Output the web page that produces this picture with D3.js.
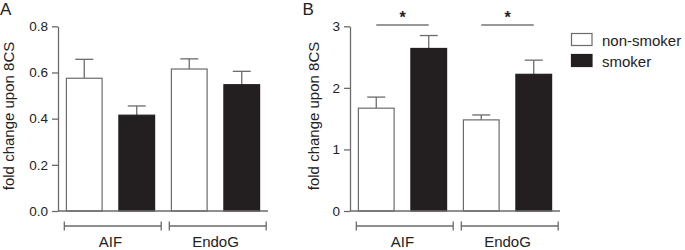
<!DOCTYPE html>
<html><head><meta charset="utf-8">
<script src="https://cdn.jsdelivr.net/npm/d3@7"></script>
<style>body{margin:0;background:#fff}svg{display:block;font-family:"Liberation Sans",Arial,sans-serif}</style>
</head><body><svg id="c" width="685" height="250"></svg>
<script>
const groups = ["AIF", "EndoG"];
const series = ["non-smoker", "smoker"];
const panelAMean = [[0.575, 0.415], [0.615, 0.547]];
const panelAErr  = [[0.082, 0.040], [0.044, 0.058]];
const panelBMean = [[1.67, 2.64], [1.48, 2.22]];
const panelBErr  = [[0.18, 0.21], [0.08, 0.23]];
const panelATicks = [0, 0.2, 0.4, 0.6, 0.8];
const panelBTicks = [0, 1, 2, 3];
const panelBSig = ["*", "*"];

const svg = d3.select("#c");
const fills = ["#ffffff", "#231f20"];
const gray = "#6b6b6b";

function panel(opt) {
  const g = svg.append("g");
  const y = d3.scaleLinear().domain(opt.domain).range([211, 26.3]);
  const keys = [];
  groups.forEach((gr, i) => series.forEach((s, j) => keys.push(gr + "|" + s)));
  const x = d3.scaleBand().domain(keys).range([opt.x0, opt.x0 + 210]).paddingInner(0.32).paddingOuter(0.16);
  const xg = d3.scaleBand().domain(groups).range([opt.x0, opt.x0 + 210]);

  groups.forEach((gr, i) => series.forEach((s, j) => {
    const k = gr + "|" + s, v = opt.mean[i][j], e = opt.err[i][j];
    const cx = x(k) + x.bandwidth() / 2;
    g.append("line").attr("x1", cx).attr("x2", cx).attr("y1", y(v)).attr("y2", y(v + e))
      .attr("stroke", gray).attr("stroke-width", 1.3);
    g.append("line").attr("x1", cx - 9).attr("x2", cx + 9).attr("y1", y(v + e)).attr("y2", y(v + e))
      .attr("stroke", gray).attr("stroke-width", 1.3);
    g.append("rect").attr("x", x(k)).attr("y", y(v)).attr("width", x.bandwidth()).attr("height", y(0) - y(v))
      .attr("fill", fills[j]).attr("stroke", j === 0 ? gray : fills[j]).attr("stroke-width", 1.2);
  }));

  const ya = g.append("g").attr("transform", `translate(${opt.x0},0)`)
    .call(d3.axisLeft(y).tickValues(opt.ticks).tickFormat(opt.fmt).tickSize(6).tickPadding(4).tickSizeOuter(0));
  ya.select(".domain").attr("stroke", gray).attr("stroke-width", 1.3);
  ya.selectAll(".tick line").attr("stroke", gray).attr("stroke-width", 1.3);
  ya.selectAll(".tick text").attr("fill", "#222").style("font-size", "13.5px").style("font-family", '"Liberation Sans",Arial,sans-serif');
  g.append("line").attr("x1", opt.x0).attr("x2", opt.x0 + 210).attr("y1", y(0)).attr("y2", y(0))
    .attr("stroke", gray).attr("stroke-width", 1.3);

  groups.forEach(gr => {
    const a = xg(gr) + 6.3, b = xg(gr) + xg.bandwidth() - 1.8, yy = 226;
    g.append("path").attr("d", `M${a},${yy - 4.5}V${yy + 4.5}M${a},${yy}H${b}M${b},${yy - 4.5}V${yy + 4.5}`)
      .attr("stroke", gray).attr("stroke-width", 1.3).attr("fill", "none");
    g.append("text").attr("x", xg(gr) + xg.bandwidth() / 2).attr("y", 246.5).attr("text-anchor", "middle")
      .style("font-size", "15px").attr("fill", "#222").text(gr);
  });

  g.append("text").attr("transform", `translate(${opt.labelX},116) rotate(-90)`)
    .attr("text-anchor", "middle").attr("dominant-baseline", "central")
    .style("font-size", "15px").attr("fill", "#222").text("fold change upon 8CS");

  g.append("text").attr("x", opt.letterX).attr("y", 15).style("font-size", "17px").attr("fill", "#222").text(opt.letter);

  if (opt.sig) {
    groups.forEach((gr, i) => {
      if (!opt.sig[i]) return;
      const a = x(gr + "|" + series[0]) + x.bandwidth() / 2, b = x(gr + "|" + series[1]) + x.bandwidth() / 2;
      g.append("line").attr("x1", a).attr("x2", b).attr("y1", 25).attr("y2", 25).attr("stroke", "#333").attr("stroke-width", 1.2);
      g.append("text").attr("x", (a + b) / 2).attr("y", 22.5).attr("text-anchor", "middle")
        .style("font-size", "16px").style("font-weight", "bold").attr("fill", "#222").text(opt.sig[i]);
    });
  }
}

panel({x0: 58, domain: [0, 0.8], ticks: panelATicks, fmt: d3.format(".1f"), mean: panelAMean, err: panelAErr, labelX: 8.5, letter: "A", letterX: 0});
panel({x0: 350, domain: [0, 3], ticks: panelBTicks, fmt: d3.format("d"), mean: panelBMean, err: panelBErr, labelX: 313, letter: "B", letterX: 302.5, sig: panelBSig});

const leg = svg.append("g");
series.forEach((s, j) => {
  const yy = 33.5 + j * 21;
  leg.append("rect").attr("x", 571.5).attr("y", yy).attr("width", 20.5).attr("height", 12)
    .attr("fill", fills[j]).attr("stroke", j === 0 ? gray : fills[j]).attr("stroke-width", 1.2);
  leg.append("text").attr("x", 602).attr("y", yy + 12).style("font-size", "15px").attr("fill", "#222").text(s);
});
</script></body></html>
